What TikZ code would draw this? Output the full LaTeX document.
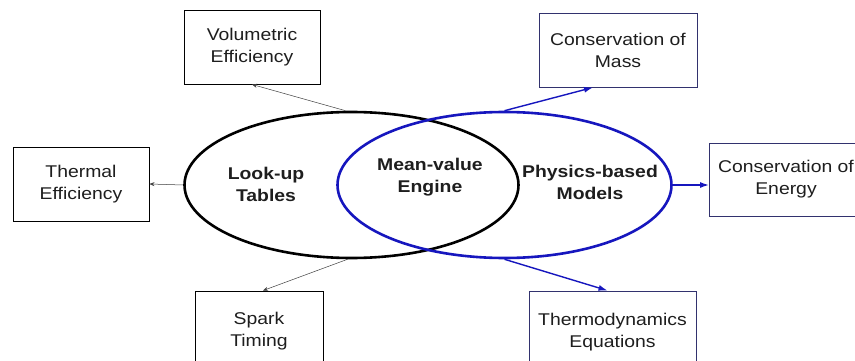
\documentclass[tikz,border=0pt]{standalone}
\usepackage{fontspec}
\setmainfont{Liberation Sans}[FakeStretch=1.14]
\usetikzlibrary{shapes.geometric,arrows.meta}
\definecolor{eblue}{RGB}{22,22,190}
\definecolor{bblue}{RGB}{50,50,110}
\definecolor{txt}{RGB}{30,30,30}
\begin{document}
\begin{tikzpicture}[x=1pt,y=-1pt,
  every node/.style={font=\fontsize{17}{22}\selectfont, text=txt, align=center, inner sep=0pt},
  box/.style={draw=black, line width=0.9pt, rectangle},
  bbox/.style={draw=bblue, line width=0.9pt, rectangle},
  oval/.style={ellipse, line width=2.6pt, minimum width=334pt, minimum height=146pt},
  thin/.style={draw=black!75, line width=0.5pt, -{Stealth[length=5pt,width=4pt]}},
  barrow/.style={draw=eblue, line width=1.4pt, -{Latex[length=9pt,width=6pt]}},
  lbl/.style={font=\bfseries\fontsize{17}{22}\selectfont}
]
\useasboundingbox (0,0) rectangle (855,361);
\clip (0,0) rectangle (855,361);
\fill[white] (0,0) rectangle (855,361);
% boxes
\node[box, minimum width=136pt, minimum height=74pt] (ve) at (252,47) {Volumetric\\Efficiency};
\node[box, minimum width=136pt, minimum height=74pt] (th) at (81,184) {Thermal\\Efficiency};
\node[box, minimum width=128pt, minimum height=80pt] (sp) at (259,331) {Spark\\Timing};
\node[bbox, minimum width=158pt, minimum height=74pt] (cm) at (618,50) {Conservation of\\Mass};
\node[bbox, minimum width=153pt, minimum height=73pt] (ce) at (786,179.5) {Conservation of\\Energy};
\node[bbox, minimum width=167pt, minimum height=82pt] (td) at (612.5,332) {Thermodynamics\\Equations};
% ellipses
\node[oval, draw=black] (lt) at (351.5,185) {};
\node[oval, draw=eblue] (pm) at (504.5,185) {};
% labels
\node[lbl] (ltl) at (266,184) {Look-up\\Tables};
\node[lbl] (mve) at (430,177) {Mean-value\\Engine};
\node[lbl] (pml) at (590,182) {Physics-based\\Models};
% connectors
\draw[thin] ([xshift=-6pt]lt.north) -- (ve.south);
\draw[thin] (lt.west) -- (th.east);
\draw[thin] ([xshift=-4pt]lt.south) -- ([xshift=4pt]sp.north);
\draw[barrow] (pm.north) -- ([xshift=-25pt]cm.south);
\draw[barrow] (pm.east) -- (ce.west |- pm.east);
\draw[barrow] (pm.south) -- ([xshift=-5pt]td.north);
\end{tikzpicture}
\end{document}
